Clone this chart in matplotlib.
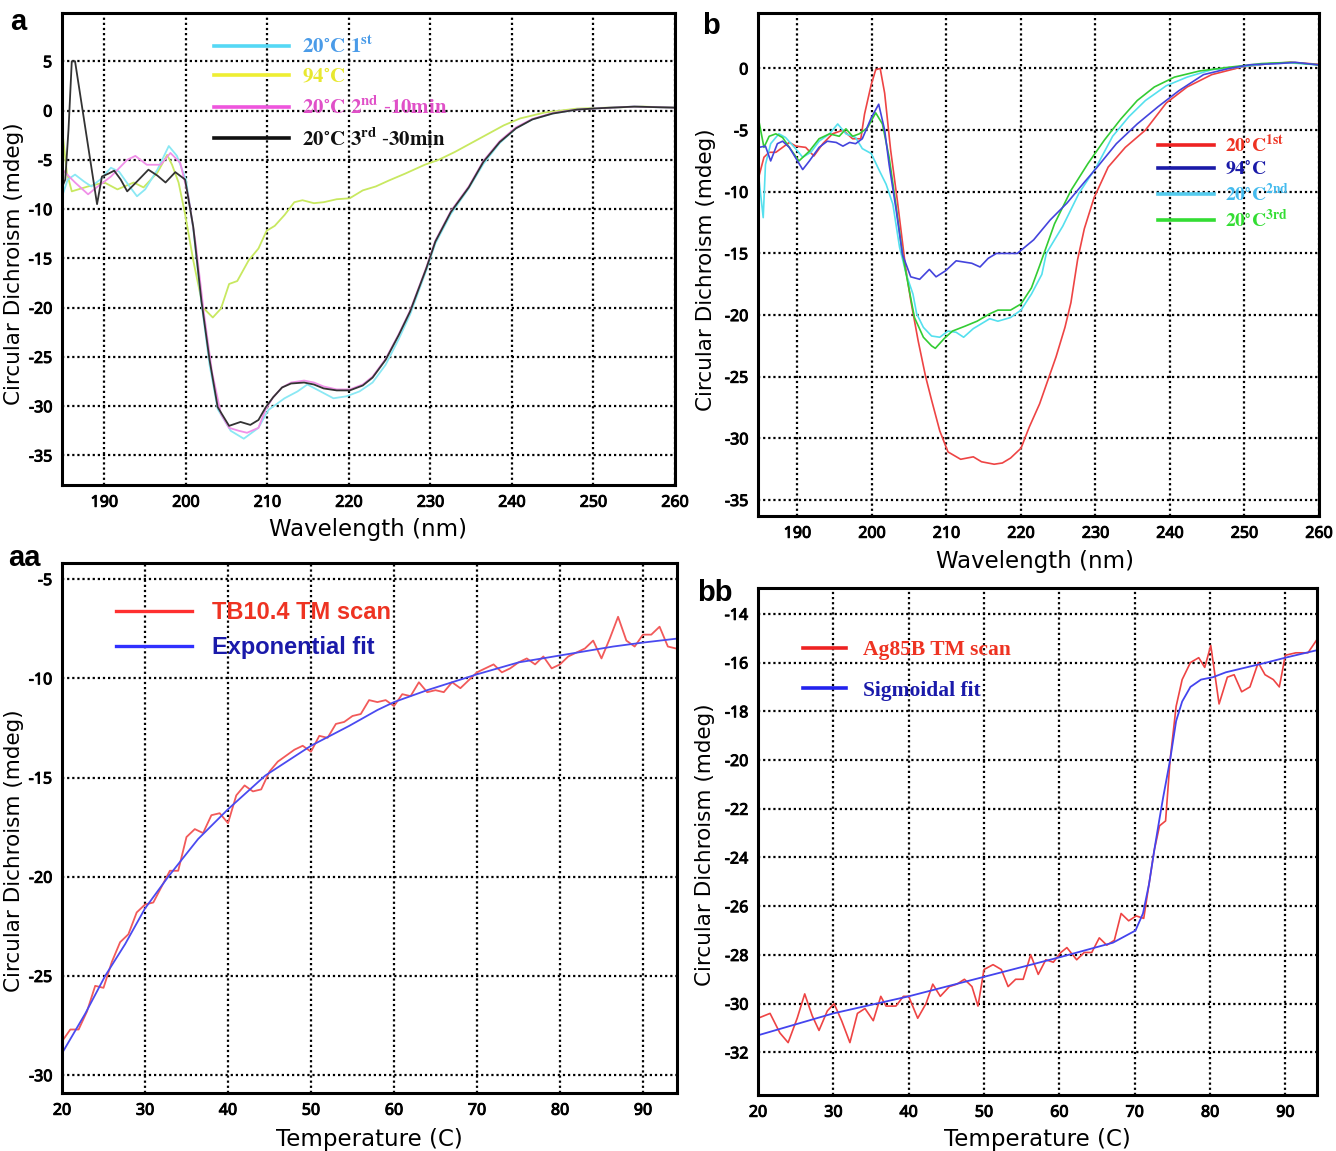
import matplotlib
matplotlib.use("Agg")
import matplotlib.pyplot as plt
import matplotlib.patheffects as pe
from matplotlib.lines import Line2D
from matplotlib.font_manager import FontProperties

plt.rcParams['mathtext.fontset'] = 'stix'

# ---------------- Panel a data ----------------
a_wl_c1 = [184.9, 185.5, 186.4, 187.5, 188.4, 189.5, 190.8, 191.8, 193.0, 194.0, 195.0, 196.5, 197.9, 198.9,
           200.0, 200.9, 201.9, 202.9, 203.9, 205.5, 207.1, 208.9, 210.1, 212.1, 213.7, 214.9, 216.5, 218.1,
           219.7, 221.3, 222.9, 224.5, 226.1, 227.5, 229.5, 230.6, 232.5, 234.7, 236.5, 238.5, 240.5, 242.5,
           245.0, 248.0, 251.0, 255.0, 259.8]
a_cd_c1 = [-8.5, -7.0, -6.5, -7.2, -7.7, -7.0, -5.8, -6.2, -7.6, -8.7, -8.0, -6.0, -3.6, -4.6,
           -7.0, -12.0, -19.5, -25.8, -30.3, -32.5, -33.3, -32.2, -30.4, -29.2, -28.5, -27.8, -28.5, -29.2,
           -29.0, -28.5, -27.6, -25.8, -23.2, -20.7, -16.2, -13.5, -10.5, -7.9, -5.4, -3.3, -1.8, -0.9,
           -0.3, 0.1, 0.25, 0.4, 0.3]

a_wl_94 = [184.9, 185.4, 186.0, 188.0, 190.0, 191.6, 193.6, 194.8, 196.5, 197.7, 198.3, 199.1, 199.9, 200.9,
           202.1, 203.3, 204.3, 205.3, 206.3, 207.7, 208.9, 209.9, 210.9, 212.1, 213.3, 214.3, 215.7, 216.9,
           218.5, 220.1, 221.7, 223.3, 224.9, 226.9, 229.3, 231.0, 233.0, 235.0, 237.0, 239.0, 241.0, 244.0,
           248.0, 252.0, 256.0, 259.8]
a_cd_94 = [-2.5, -6.3, -8.2, -7.7, -7.3, -8.0, -7.3, -7.8, -6.3, -4.5, -5.5, -7.3, -10.5, -15.2,
           -20.0, -21.0, -20.1, -17.6, -17.3, -15.2, -14.0, -12.2, -11.7, -10.6, -9.3, -9.1, -9.4, -9.3,
           -9.0, -8.9, -8.1, -7.7, -7.1, -6.4, -5.5, -5.0, -4.2, -3.3, -2.4, -1.5, -0.8, -0.2,
           0.2, 0.3, 0.4, 0.3]

a_wl_c2 = [184.9, 185.2, 186.4, 188.0, 189.2, 190.8, 192.8, 193.8, 195.2, 196.9, 198.1, 199.3, 200.3, 201.2,
           202.2, 203.2, 204.3, 205.3, 206.5, 207.5, 208.9, 209.8, 210.7, 211.8, 212.9, 214.5, 215.7, 216.9,
           218.5, 220.1, 221.7, 222.9, 224.5, 226.1, 227.5, 229.5, 230.6, 232.5, 234.7, 236.5, 238.5, 240.5,
           242.5, 245.0, 248.0, 251.0, 255.0, 259.8]
a_cd_c2 = [-6.0, -6.3, -7.3, -8.5, -7.7, -6.7, -5.0, -4.6, -5.5, -5.5, -4.3, -5.3, -8.7, -13.5,
           -20.5, -26.5, -30.8, -32.2, -32.5, -32.7, -32.2, -30.3, -29.1, -28.1, -27.6, -27.4, -27.6, -28.0,
           -28.3, -28.3, -27.8, -27.0, -25.2, -22.7, -20.3, -15.9, -13.2, -10.2, -7.7, -5.1, -3.1, -1.7,
           -0.85, -0.25, 0.1, 0.25, 0.4, 0.3]

a_wl_c3 = [184.9, 185.2, 185.6, 186.0, 186.4, 189.1, 189.7, 190.5, 191.2, 192.0, 192.8, 194.0, 195.4, 196.5,
           197.5, 198.7, 199.9, 200.9, 201.9, 202.9, 203.9, 205.3, 206.7, 207.9, 208.9, 209.8, 210.7, 211.8,
           212.9, 214.5, 215.7, 216.9, 218.5, 220.1, 221.7, 222.9, 224.5, 226.1, 227.5, 229.5, 230.6, 232.5,
           234.7, 236.5, 238.5, 240.5, 242.5, 245.0, 248.0, 251.0, 255.0, 259.8]
a_cd_c3 = [-7.6, -7.0, -1.9, 5.0, 5.0, -9.5, -6.7, -6.4, -6.1, -7.0, -8.2, -7.2, -6.0, -6.6,
           -7.3, -6.25, -7.0, -11.8, -19.3, -25.3, -30.1, -32.0, -31.6, -31.9, -31.4, -30.1, -29.1, -28.1,
           -27.7, -27.6, -27.8, -28.2, -28.4, -28.4, -27.9, -27.1, -25.3, -22.8, -20.4, -16.0, -13.3, -10.3,
           -7.8, -5.2, -3.2, -1.8, -0.9, -0.3, 0.1, 0.25, 0.4, 0.3]

a_labels = [r'$\mathbf{20^{\circ}C\ 1^{st}}$', r'$\mathbf{94^{\circ}C}$',
            r'$\mathbf{20^{\circ}C\ 2^{nd}\ \text{-}10min}$', r'$\mathbf{20^{\circ}C\ 3^{rd}\ \text{-}30min}$']

# ---------------- Panel b data ----------------
b_wl_r = [184.8, 185.5, 186.2, 187.1, 188.0, 188.9, 189.8, 191.1, 192.2, 193.4, 194.7, 196.1, 197.4, 198.5,
          199.0, 199.9, 200.5, 201.1, 201.7, 202.5, 203.4, 204.5, 205.2, 206.2, 207.2, 208.0, 209.1, 210.2,
          211.9, 213.6, 214.7, 216.4, 217.5, 218.6, 220.0, 221.1, 222.5, 223.6, 224.7, 225.9, 226.7, 227.6,
          228.5, 229.8, 231.7, 234.0, 236.7, 239.5, 242.3, 245.6, 249.5, 253.4, 256.2, 259.8]
b_cd_r = [-8.8, -7.2, -6.8, -6.8, -6.4, -6.0, -6.3, -6.4, -7.1, -6.1, -5.3, -5.0, -5.7, -5.7,
          -3.7, -1.3, -0.1, 0.0, -2.0, -6.6, -10.7, -16.1, -18.8, -22.1, -25.0, -26.9, -29.4, -31.1,
          -31.7, -31.5, -31.9, -32.1, -32.0, -31.6, -30.8, -29.1, -27.2, -25.3, -23.4, -21.0, -19.0, -15.5,
          -13.0, -10.5, -8.0, -6.4, -5.0, -2.8, -1.5, -0.5, 0.1, 0.4, 0.5, 0.35]

b_wl_b = [184.8, 185.7, 186.4, 187.3, 188.0, 188.9, 190.0, 190.7, 191.6, 192.9, 194.0, 195.2, 196.1, 197.0,
          197.8, 198.7, 199.9, 200.9, 201.7, 202.3, 203.2, 204.1, 205.2, 206.4, 207.7, 208.6, 209.9, 211.3,
          213.4, 214.5, 215.6, 216.7, 219.5, 221.7, 223.9, 226.2, 228.4, 230.1, 232.8, 235.6, 238.4, 241.2,
          244.5, 247.9, 250.7, 254.6, 256.8, 259.8]
b_cd_b = [-6.4, -6.3, -7.5, -6.1, -5.9, -6.4, -7.5, -8.2, -7.5, -6.4, -5.9, -6.0, -6.3, -6.0,
          -6.1, -5.7, -4.0, -2.9, -5.0, -7.8, -11.3, -15.1, -16.9, -17.1, -16.3, -16.9, -16.4, -15.6,
          -15.8, -16.1, -15.4, -15.0, -15.0, -13.9, -12.3, -10.9, -9.3, -8.1, -6.1, -4.5, -3.1, -1.8,
          -0.5, 0.0, 0.3, 0.4, 0.5, 0.3]

b_wl_c = [184.8, 185.4, 185.7, 186.4, 187.5, 188.4, 189.6, 190.7, 191.8, 192.9, 194.3, 195.4, 196.5, 197.8,
          198.7, 199.9, 201.0, 201.9, 202.8, 203.7, 204.6, 205.5, 206.0, 206.9, 208.0, 209.1, 210.2, 211.3,
          212.3, 213.6, 214.7, 215.8, 216.9, 218.6, 220.0, 221.4, 222.8, 223.4, 225.6, 227.8, 230.1, 232.3,
          234.5, 236.7, 239.5, 242.3, 245.6, 249.0, 253.4, 256.2, 259.8]
b_cd_c = [-8.8, -12.1, -7.8, -6.1, -5.3, -5.6, -6.4, -7.2, -6.8, -5.9, -5.3, -4.5, -5.3, -5.6,
          -6.5, -6.9, -8.3, -9.4, -11.0, -14.5, -16.7, -18.3, -19.9, -21.0, -21.7, -21.8, -21.3, -21.4,
          -21.8, -21.1, -20.7, -20.3, -20.5, -20.2, -19.6, -18.3, -16.7, -15.0, -12.8, -10.1, -8.0, -5.5,
          -3.9, -2.6, -1.4, -0.7, -0.1, 0.1, 0.4, 0.45, 0.3]

b_wl_g = [184.8, 185.5, 186.2, 187.1, 188.0, 188.9, 190.2, 191.6, 192.9, 194.3, 195.6, 196.5, 197.4, 198.3,
          199.4, 200.5, 201.4, 202.3, 203.2, 204.1, 205.1, 205.7, 206.9, 208.0, 208.5, 209.7, 210.8, 212.5,
          214.1, 215.8, 216.9, 218.6, 220.0, 221.4, 222.5, 224.5, 226.7, 229.0, 231.2, 233.4, 235.6, 237.9,
          240.6, 244.0, 247.9, 252.3, 256.2, 259.8]
b_cd_g = [-4.2, -6.4, -5.5, -5.3, -5.6, -6.4, -7.5, -6.7, -5.7, -5.3, -5.5, -4.9, -5.5, -5.3,
          -4.8, -3.6, -4.5, -7.2, -11.0, -15.1, -18.3, -20.2, -21.8, -22.5, -22.7, -21.9, -21.3, -20.9,
          -20.5, -19.9, -19.6, -19.6, -19.1, -17.8, -16.0, -12.6, -9.9, -7.7, -5.8, -4.1, -2.6, -1.5,
          -0.7, -0.2, 0.1, 0.4, 0.5, 0.3]

b_labels = [r'$\mathbf{20^{\circ}C^{1st}}$', r'$\mathbf{94^{\circ}C}$',
            r'$\mathbf{20^{\circ}C^{2nd}}$', r'$\mathbf{20^{\circ}C^{3rd}}$']

# ---------------- Panel aa data ----------------
aa_t_scan = list(range(20, 95))
aa_cd_scan = [-28.3, -27.7, -27.7, -26.8, -25.5, -25.6, -24.3, -23.3, -22.9, -21.8,
              -21.4, -21.3, -20.5, -19.7, -19.7, -18.0, -17.6, -17.8, -16.9, -16.8,
              -17.3, -15.9, -15.4, -15.7, -15.6, -14.7, -14.2, -13.9, -13.6, -13.4,
              -13.7, -12.9, -13.0, -12.3, -12.2, -11.9, -11.8, -11.1, -11.2, -11.1,
              -11.4, -10.8, -10.9, -10.2, -10.7, -10.6, -10.7, -10.2, -10.5, -10.1,
              -9.7, -9.5, -9.3, -9.7, -9.5, -9.2, -9.0, -9.3, -8.9, -9.5,
              -9.3, -8.9, -8.7, -8.5, -8.1, -9.0, -8.0, -6.9, -8.1, -8.4,
              -7.8, -7.8, -7.4, -8.4, -8.5]
aa_t_fit = [20.0, 22.8, 25.2, 27.6, 30.0, 32.8, 36.4, 40.0, 44.5, 50.0, 54.6, 58.0, 60.0, 64.0,
            70.0, 75.0, 80.0, 86.4, 90.0, 94.1]
aa_cd_fit = [-28.9, -26.9, -25.0, -23.4, -21.6, -20.0, -18.1, -16.6, -14.9, -13.4, -12.4, -11.6,
             -11.2, -10.6, -9.8, -9.2, -8.85, -8.4, -8.2, -8.0]
aa_labels = ['TB10.4 TM scan', 'Exponential fit']

# ---------------- Panel bb data ----------------
bb_t_scan = [20.0, 21.6, 22.9, 24.0, 25.2, 26.2, 27.2, 28.1, 29.2, 30.1, 31.1, 32.2, 33.2, 34.2, 35.3,
             36.3, 37.0, 38.3, 39.3, 40.0, 41.2, 42.3, 43.2, 44.2, 45.4, 46.4, 47.4, 48.4, 49.2, 50.0,
             51.2, 52.3, 53.2, 54.2, 55.2, 56.2, 57.2, 58.2, 59.2, 60.2, 61.0, 62.3, 63.3, 64.3, 65.3,
             66.3, 67.3, 68.2, 69.2, 70.2, 71.2, 71.9, 72.6, 73.3, 74.1, 74.7, 75.5, 76.3, 77.4, 78.5,
             79.3, 80.1, 81.2, 82.3, 83.2, 84.2, 85.3, 86.4, 87.3, 88.4, 89.2, 90.0, 91.4, 93.0, 94.1]
bb_cd_scan = [-30.6, -30.4, -31.2, -31.6, -30.6, -29.6, -30.5, -31.1, -30.3, -30.0, -30.7, -31.6, -30.4,
              -30.2, -30.7, -29.7, -30.1, -30.1, -29.7, -29.7, -30.6, -30.0, -29.2, -29.7, -29.3, -29.2,
              -29.0, -29.3, -30.1, -28.6, -28.4, -28.6, -29.3, -29.0, -29.0, -28.0, -28.8, -28.2, -28.3,
              -27.9, -27.7, -28.2, -27.9, -27.9, -27.3, -27.6, -27.4, -26.3, -26.6, -26.4, -26.5, -25.1,
              -23.7, -22.7, -22.5, -20.0, -17.8, -16.7, -16.0, -15.8, -16.2, -15.3, -17.7, -16.6, -16.5,
              -17.2, -17.0, -16.0, -16.5, -16.7, -17.0, -15.7, -15.6, -15.6, -15.1]
bb_t_fit = [20.0, 30.0, 40.0, 50.0, 60.0, 67.1, 70.1, 71.1, 71.9, 72.6, 73.3, 73.8, 74.7, 75.5, 76.3,
            77.4, 78.8, 80.4, 82.1, 84.8, 87.5, 90.0, 94.1]
bb_cd_fit = [-31.3, -30.4, -29.7, -28.9, -28.1, -27.5, -27.0, -26.3, -25.1, -23.7, -22.4, -21.5, -20.0,
             -18.4, -17.6, -17.0, -16.7, -16.6, -16.4, -16.2, -16.0, -15.8, -15.5]
bb_labels = ['Ag85B TM scan', 'Sigmoidal fit']

# ---------------- Figure ----------------
fig = plt.figure(figsize=(13.36, 11.51), dpi=100)
TICKFP = FontProperties(family='Noto Sans', weight='bold', stretch='condensed', size=11.5)
XLABELFP = FontProperties(family='DejaVu Sans', size=16.5)
YLABELFP = FontProperties(family='DejaVu Sans', size=15.5)
TICK_EFFECT = [pe.withStroke(linewidth=0.7, foreground='black')]


def style_axes(ax, xticks, yticks, xlim, ylim, xlabel, ylab_xy, xlab_xy):
    ax.set_xlim(*xlim)
    ax.set_ylim(*ylim)
    ax.set_xticks(xticks)
    ax.set_yticks(yticks)
    ax.set_xticklabels([str(t) for t in xticks], fontproperties=TICKFP)
    ax.set_yticklabels([str(t) for t in yticks], fontproperties=TICKFP)
    for lab in ax.get_xticklabels() + ax.get_yticklabels():
        lab.set_path_effects(TICK_EFFECT)
    ax.tick_params(length=0, pad=7)
    ax.grid(True, color='black', linestyle=(0, (1, 1.3)), linewidth=1.6)
    for s in ax.spines.values():
        s.set_linewidth(2.2)
        s.set_color('black')
    ax.set_xlabel(xlabel, fontproperties=XLABELFP)
    ax.set_ylabel('Circular Dichroism (mdeg)', fontproperties=YLABELFP)
    ax.yaxis.set_label_coords(*ylab_xy)
    ax.xaxis.set_label_coords(*xlab_xy)


# Panel a
ax_a = fig.add_axes([62 / 1336, 1 - 485 / 1151, 613 / 1336, 472 / 1151])
ax_a.plot(a_wl_94, a_cd_94, color='#c8e860', lw=1.3)
ax_a.plot(a_wl_c1, a_cd_c1, color='#8ae8f4', lw=1.3)
ax_a.plot(a_wl_c2, a_cd_c2, color='#f090e8', lw=1.3)
ax_a.plot(a_wl_c3, a_cd_c3, color='#333333', lw=1.3)
style_axes(ax_a, list(range(190, 261, 10)), list(range(-35, 6, 5)), (184.8, 259.9), (-38.0, 9.9),
           'Wavelength (nm)', (-0.062, 0.468), (0.5, -0.070))
a_line_colors = ['#55d8f5', '#eeee33', '#ee55dd', '#111111']
a_text_colors = ['#4a9be8', '#e8e830', '#e050c8', '#111111']
h = [Line2D([], [], color=c, lw=2.6) for c in a_line_colors]
leg = ax_a.legend(h, a_labels, loc='upper left', bbox_to_anchor=(0.248, 0.953), frameon=False,
                  fontsize=15, handlelength=3.6, handletextpad=0.6, labelspacing=0.45, borderaxespad=0,
                  borderpad=0)
for t, c in zip(leg.get_texts(), a_text_colors):
    t.set_color(c)

# Panel b
ax_b = fig.add_axes([758 / 1336, 1 - 516 / 1151, 561 / 1336, 503 / 1151])
ax_b.plot(b_wl_r, b_cd_r, color='#ee4444', lw=1.2)
ax_b.plot(b_wl_c, b_cd_c, color='#55e0ee', lw=1.2)
ax_b.plot(b_wl_g, b_cd_g, color='#33cc33', lw=1.2)
ax_b.plot(b_wl_b, b_cd_b, color='#4444dd', lw=1.2)
style_axes(ax_b, list(range(190, 261, 10)), list(range(-35, 1, 5)), (184.7, 259.9), (-36.3, 4.5),
           'Wavelength (nm)', (-0.075, 0.489), (0.494, -0.068))
b_line_colors = ['#ee2222', '#1a1aa8', '#55ccee', '#33dd33']
b_text_colors = ['#ee3322', '#1a1aa8', '#44bbee', '#33dd33']
h = [Line2D([], [], color=c, lw=2.6) for c in b_line_colors]
leg = ax_b.legend(h, b_labels, loc='upper left', bbox_to_anchor=(0.713, 0.76), frameon=False,
                  fontsize=14, handlelength=2.9, handletextpad=0.55, labelspacing=0.2, borderaxespad=0,
                  borderpad=0)
for t, c in zip(leg.get_texts(), b_text_colors):
    t.set_color(c)

# Panel aa
ax_aa = fig.add_axes([62 / 1336, 1 - 1093 / 1151, 615 / 1336, 530 / 1151])
ax_aa.plot(aa_t_scan, aa_cd_scan, color='#f25a5a', lw=1.3)
ax_aa.plot(aa_t_fit, aa_cd_fit, color='#4a4af0', lw=1.3)
style_axes(ax_aa, list(range(20, 91, 10)), list(range(-30, -4, 5)), (20, 94.1), (-30.9, -4.19),
           'Temperature (C)', (-0.062, 0.457), (0.5, -0.066))
h = [Line2D([], [], color='#ff3030', lw=2.4), Line2D([], [], color='#3030ff', lw=2.4)]
leg = ax_aa.legend(h, aa_labels, loc='upper left', bbox_to_anchor=(0.088, 0.928), frameon=False,
                   prop=dict(family='Liberation Sans', weight='bold', size=17), handlelength=3.2,
                   handletextpad=0.85, labelspacing=0.5, borderaxespad=0, borderpad=0)
for t, c in zip(leg.get_texts(), ['#ee3322', '#1a1aaa']):
    t.set_color(c)

# Panel bb
ax_bb = fig.add_axes([758 / 1336, 1 - 1095 / 1151, 559 / 1336, 507 / 1151])
ax_bb.plot(bb_t_scan, bb_cd_scan, color='#ee4444', lw=1.2)
ax_bb.plot(bb_t_fit, bb_cd_fit, color='#4444ee', lw=1.3)
style_axes(ax_bb, list(range(20, 91, 10)), list(range(-32, -13, 2)), (20, 94.2), (-33.75, -12.94),
           'Temperature (C)', (-0.077, 0.493), (0.5, -0.066))
h = [Line2D([], [], color='#ee2222', lw=2.6), Line2D([], [], color='#2222ee', lw=2.6)]
leg = ax_bb.legend(h, bb_labels, loc='upper left', bbox_to_anchor=(0.08, 0.897), frameon=False,
                   prop=dict(family='Liberation Serif', weight='bold', size=15.5), handlelength=2.0,
                   handletextpad=0.8, labelspacing=0.95, borderaxespad=0, borderpad=0)
for t, c in zip(leg.get_texts(), ['#ee3322', '#1a1aaa']):
    t.set_color(c)

# Panel letters
for txt, x, y in [('a', 10, 30), ('b', 702, 34), ('aa', 8, 566), ('bb', 697, 601)]:
    fig.text(x / 1336, 1 - y / 1151, txt, fontsize=21, fontweight='bold', family='Liberation Sans',
             ha='left', va='baseline')

fig.savefig('out.png', dpi=100)
